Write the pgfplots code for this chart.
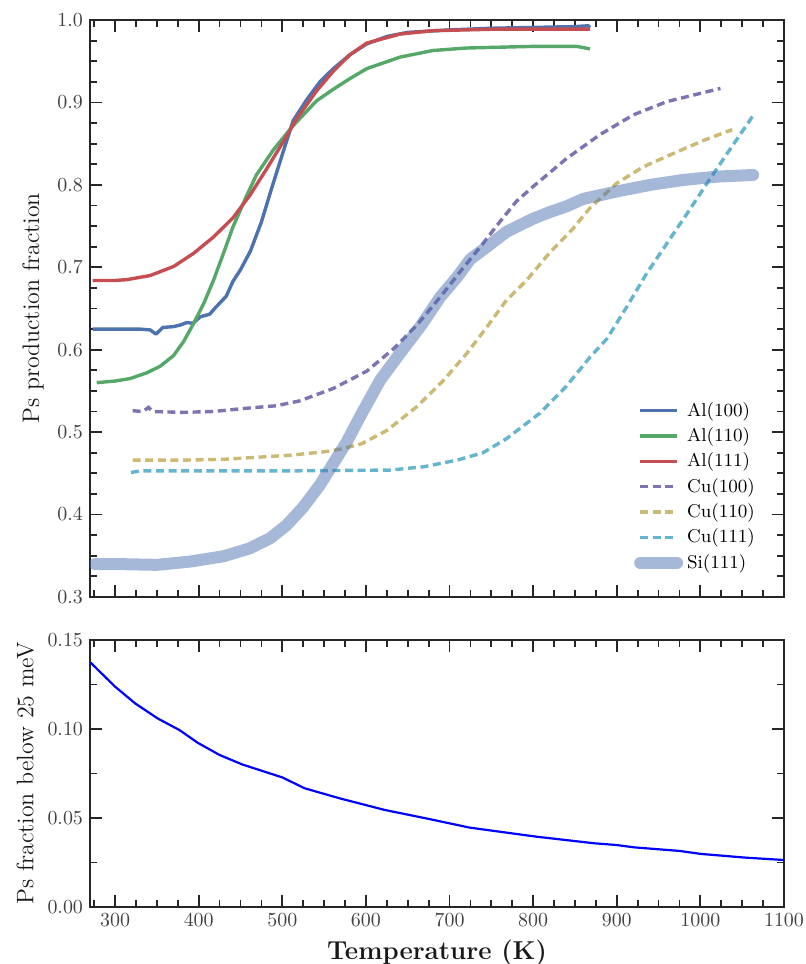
\documentclass[border=0pt]{standalone}
\usepackage{pgfplots}
\pgfplotsset{compat=1.18}
\definecolor{sbblue}{HTML}{4C72B0}
\definecolor{sbgreen}{HTML}{55A868}
\definecolor{sbred}{HTML}{C44E52}
\definecolor{sbpurple}{HTML}{8172B2}
\definecolor{sbyellow}{HTML}{CCB974}
\definecolor{sbcyan}{HTML}{64B5CD}
\begin{document}
\begin{tikzpicture}
\useasboundingbox (-45bp,-162bp) rectangle (358bp,320bp);
\pgfplotsset{
  every axis/.append style={
    scale only axis, width=347bp, xmin=270, xmax=1100,
    axis line style={black!85, line width=1.2bp},
    every tick/.style={black!85, line width=0.9bp},
    major tick length=6bp, minor tick length=3.5bp,
    tick align=inside,
    xtick={300,400,500,600,700,800,900,1000,1100},
    minor xtick={275,325,350,375,425,450,475,525,550,575,625,650,675,725,750,775,825,850,875,925,950,975,1025,1050,1075},
    tick label style={font=\fontsize{10}{12}\selectfont, text=black!75},
    label style={text=black!90},
    ylabel style={font=\fontsize{12}{14}\selectfont},
    xlabel style={font=\fontsize{13}{15}\selectfont\bfseries},
    /pgf/number format/fixed, /pgf/number format/fixed zerofill,
  }
}
% ---------------- top axis ----------------
\begin{axis}[
  at={(0,21.5bp)}, anchor=south west,
  height=288.5bp,
  ymin=0.3, ymax=1.0,
  ytick={0.3,0.4,0.5,0.6,0.7,0.8,0.9,1.0},
  minor ytick={0.325,0.35,0.375,0.425,0.45,0.475,0.525,0.55,0.575,0.625,0.65,0.675,0.725,0.75,0.775,0.825,0.85,0.875,0.925,0.95,0.975},
  yticklabel style={/pgf/number format/precision=1},
  xticklabels={},
  ylabel={Ps production fraction},
  legend cell align=left,
  legend style={at={(rel axis cs:0.775,0.352)}, anchor=north west, draw=none, fill=none,
    font=\fontsize{9.3}{11}\selectfont, row sep=0.25bp},
  legend image code/.code={\draw[mark repeat=2,mark phase=2] plot coordinates {(0cm,0cm) (0.33cm,0cm) (0.65cm,0cm)};},
]
\addplot[sbblue, line width=1.7bp, line join=round] coordinates {
(273,0.625)(300,0.625)(330,0.625)(342,0.624)(349,0.619)(357,0.627)(370,0.628)(378,0.630)(386,0.633)(393,0.632)(402,0.640)(413,0.643)(420,0.651)(433,0.665)(441,0.683)(450,0.697)(462,0.720)(475,0.755)(487,0.795)(501,0.840)(513,0.878)(529,0.903)(545,0.925)(561,0.941)(581,0.958)(601,0.971)(625,0.980)(650,0.985)(700,0.988)(750,0.990)(800,0.991)(850,0.992)(866,0.993)(868,0.991)};
\addlegendentry{Al(100)}
\addplot[sbgreen, line width=1.7bp, line join=round] coordinates {
(278,0.560)(300,0.562)(318,0.565)(338,0.572)(354,0.580)(370,0.593)(382,0.610)(394,0.632)(406,0.656)(418,0.685)(430,0.718)(441,0.749)(457,0.786)(469,0.812)(489,0.842)(513,0.872)(541,0.902)(561,0.916)(581,0.929)(601,0.941)(641,0.955)(680,0.963)(720,0.966)(800,0.968)(852,0.968)(868,0.965)};
\addlegendentry{Al(110)}
\addplot[sbred, line width=1.7bp, line join=round] coordinates {
(273,0.684)(300,0.684)(314,0.685)(342,0.690)(370,0.701)(394,0.717)(418,0.737)(441,0.760)(461,0.787)(481,0.819)(501,0.852)(517,0.880)(541,0.914)(561,0.938)(581,0.958)(601,0.972)(641,0.983)(680,0.987)(760,0.989)(868,0.989)};
\addlegendentry{Al(111)}
\addplot[sbpurple, line width=1.7bp, dash pattern=on 4bp off 2.3bp] coordinates {
(321,0.526)(333,0.525)(340,0.530)(345,0.525)(380,0.524)(417,0.525)(457,0.529)(493,0.532)(521,0.538)(561,0.553)(601,0.574)(633,0.601)(661,0.630)(689,0.664)(713,0.695)(737,0.725)(760,0.755)(780,0.780)(800,0.798)(840,0.832)(880,0.861)(920,0.885)(960,0.901)(992,0.909)(1024,0.917)};
\addlegendentry{Cu(100)}
\addplot[sbyellow, line width=1.7bp, dash pattern=on 4bp off 2.3bp] coordinates {
(321,0.466)(380,0.466)(430,0.467)(509,0.472)(549,0.476)(573,0.480)(595,0.486)(625,0.502)(661,0.531)(693,0.563)(721,0.596)(745,0.628)(768,0.660)(792,0.684)(820,0.718)(846,0.745)(868,0.772)(900,0.802)(932,0.822)(972,0.840)(1004,0.854)(1038,0.867)};
\addlegendentry{Cu(110)}
\addplot[sbcyan, line width=1.7bp, dash pattern=on 4bp off 2.3bp] coordinates {
(319,0.451)(330,0.453)(400,0.453)(509,0.453)(629,0.454)(669,0.458)(709,0.466)(740,0.475)(768,0.492)(808,0.523)(840,0.556)(868,0.591)(888,0.613)(912,0.652)(936,0.693)(960,0.729)(984,0.765)(1008,0.802)(1032,0.838)(1057,0.875)(1065,0.887)};
\addlegendentry{Cu(111)}
\addplot[sbblue, opacity=0.5, line width=6bp, line cap=round, line join=round] coordinates {
(276,0.340)(300,0.340)(350,0.339)(390,0.343)(430,0.3495)(461,0.359)(485,0.371)(505,0.387)(525,0.409)(545,0.436)(561,0.462)(577,0.488)(593,0.519)(617,0.563)(641,0.596)(665,0.628)(689,0.664)(709,0.688)(725,0.710)(745,0.725)(768,0.743)(800,0.759)(820,0.767)(840,0.774)(860,0.783)(900,0.792)(940,0.800)(980,0.806)(1020,0.810)(1063,0.812)};
\addlegendentry{Si(111)}
\end{axis}
% ---------------- bottom axis ----------------
\begin{axis}[
  at={(0,0)}, anchor=north west,
  height=133.5bp,
  ymin=0, ymax=0.15,
  ytick={0,0.05,0.10,0.15},
  minor ytick={0.025,0.075,0.125},
  yticklabel style={/pgf/number format/precision=2},
  xticklabel style={/pgf/number format/precision=0, /pgf/number format/fixed zerofill=false, /pgf/number format/1000 sep={}},
  ylabel={Ps fraction below 25 meV},
  xlabel={Temperature (K)},
]
\addplot[blue, line width=1.1bp, line join=round] coordinates {
(270.7,0.1373)(300,0.1238)(324,0.1144)(350.7,0.1060)(377,0.0994)(398.7,0.0923)(425,0.0854)(452,0.0801)(500,0.0728)(526.7,0.0667)(569,0.0610)(622.7,0.0545)(676,0.0494)(724,0.0446)(804,0.0395)(873,0.0358)(900,0.0348)(921,0.0335)(975,0.0315)(1001,0.0298)(1055,0.0277)(1100,0.0264)};
\end{axis}
\end{tikzpicture}
\end{document}
